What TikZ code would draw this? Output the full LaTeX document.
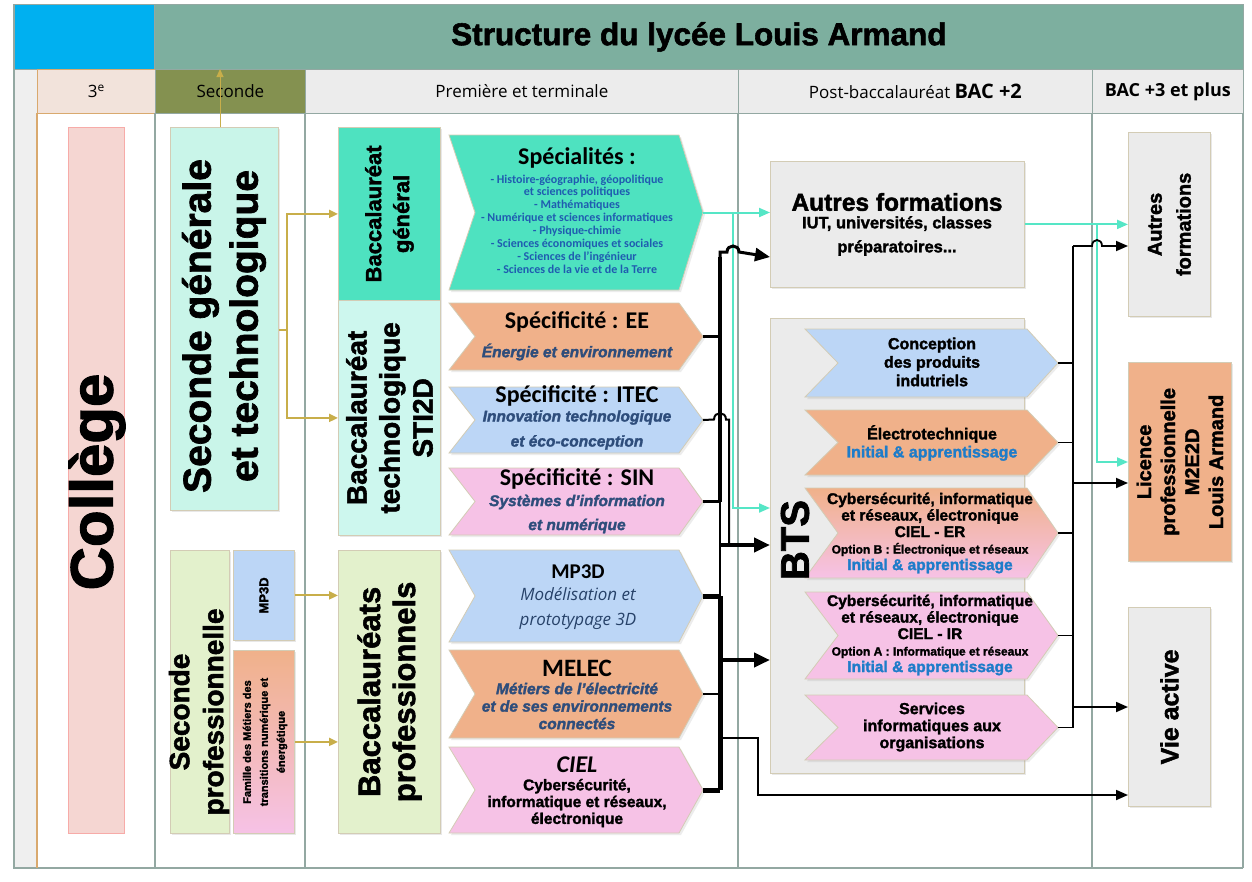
\documentclass[tikz,border=0pt]{standalone}
\usepackage{fontspec}
\setmainfont{Carlito}
\newfontfamily\heavyfont{Liberation Sans}[BoldFeatures={FakeBold=1.8},BoldItalicFeatures={FakeBold=1.8}]
\newfontfamily\segfont{Open Sans}
\usetikzlibrary{arrows.meta,shadows}

\definecolor{titleblue}{HTML}{00B0F0}
\definecolor{titlegreen}{HTML}{7DAF9F}
\definecolor{peach}{HTML}{F2E3DB}
\definecolor{peachedge}{HTML}{D9A96E}
\definecolor{olive}{HTML}{849150}
\definecolor{headgrey}{HTML}{ECECEC}
\definecolor{gridline}{HTML}{93A8A2}
\definecolor{stripgrey}{HTML}{EFEFEF}
\definecolor{collegepink}{HTML}{F5D6D2}
\definecolor{mint}{HTML}{C9F5E9}
\definecolor{turq}{HTML}{4EE2C0}
\definecolor{paleturq}{HTML}{CDF7EE}
\definecolor{palegreen}{HTML}{E3F1CC}
\definecolor{skyblue}{HTML}{BCD6F6}
\definecolor{salmon}{HTML}{F0B18A}
\definecolor{rosepink}{HTML}{F6C2E6}
\definecolor{boxgrey}{HTML}{EBEBEB}
\definecolor{boxedge}{HTML}{D3CCB5}
\definecolor{gold}{HTML}{C8AE4A}
\definecolor{listblue}{HTML}{1F5CB0}
\definecolor{slateblue}{HTML}{2E4D7B}
\definecolor{initblue}{HTML}{1E7CC9}
\definecolor{aqua}{HTML}{55E6C6}

\newcommand\fs[2]{\fontsize{#1}{#2}\selectfont}
% chevron: name, left x, tip x, top y, bottom y, fill, depth
\newcommand\chevron[7]{%
  \path[chevedge,#6] (#2,#4) -- ({#3-#7},#4) -- (#3,{(#4+#5)/2}) -- ({#3-#7},#5)
    -- (#2,#5) -- ({#2+#7+2},{(#4+#5)/2}) -- cycle;
  \coordinate (#1-tip) at (#3,{(#4+#5)/2});
  \coordinate (#1) at ({(#2+#3)/2},{(#4+#5)/2});
}

\begin{document}
\begin{tikzpicture}[x=1pt,y=-1pt,
  cell/.style={anchor=north west,inner sep=0pt,line width=0.8pt},
  boxed/.style={cell,draw=boxedge,drop shadow={shadow xshift=2pt,shadow yshift=-2pt,opacity=0.18}},
  headcell/.style={cell,draw=gridline,font=\segfont\fs{17}{19}},
  vtext/.style={rotate=90,align=center,inner sep=0pt},
  ctext/.style={align=center,inner sep=0pt},
  chevedge/.style={draw=boxedge,line width=0.8pt,drop shadow={shadow xshift=2pt,shadow yshift=-2pt,opacity=0.15}},
  goldline/.style={draw=gold,line width=2pt},
  goldarrow/.style={goldline,-{Triangle[length=9pt,width=8pt]}},
  tealline/.style={draw=aqua,line width=2pt},
  tealarrow/.style={tealline,-{Triangle[length=11pt,width=9pt]}},
  thinarrow/.style={line width=1.8pt,-{Triangle[length=12pt,width=10pt]}},
  fatarrow/.style={line width=4pt,-{Triangle[length=16pt,width=14pt]}},
]
\useasboundingbox (0,0) rectangle (1252,881);
\fill[white] (0,0) rectangle (1252,881);

% frame and columns
\fill[stripgrey] (14,69) rectangle (37,868);
\node[cell,draw=gridline,fill=titleblue,minimum width=140,minimum height=65] (logo) at (14,4) {};
\node[cell,draw=gridline,fill=titlegreen,minimum width=1089,minimum height=65,
  font=\heavyfont\bfseries\fs{31.5}{36}] (title) at (154,4) {Structure du lycée Louis Armand};
\node[headcell,draw=peachedge,fill=peach,minimum width=118,minimum height=44] (h3e) at (37,69) {3\textsuperscript{e}};
\node[headcell,fill=olive,minimum width=150,minimum height=44] (hsec) at (155,69) {Seconde};
\node[headcell,fill=headgrey,minimum width=433,minimum height=44] (hpt) at (305,69) {Première et terminale};
\node[headcell,fill=headgrey,minimum width=354,minimum height=44] (hpb) at (738,69)
  {Post-baccalauréat {\bfseries\fs{20}{22}BAC +2}};
\node[headcell,fill=headgrey,minimum width=151,minimum height=44,font=\segfont\bfseries\fs{18}{20}] (hb3) at (1092,69) {BAC +3 et plus};
\draw[gridline,line width=1.5pt] (14,4) -- (14,868) -- (1243,868);
\draw[peachedge,line width=1.2pt] (37,113) -- (37,868);
\foreach \cx in {155,305,738,1092,1243}
  \draw[gridline,line width=1.5pt] (\cx,113) -- (\cx,868);

% college and seconde
\node[cell,draw=collegepink!80!red,fill=collegepink,minimum width=56,minimum height=706] (college) at (68,127) {};
\node[vtext,font=\heavyfont\bfseries\fs{60}{64}] (college-t) at (97,482) {Collège};
\node[boxed,fill=mint,minimum width=108,minimum height=383] (sgt) at (170,127) {};
\node[vtext,font=\heavyfont\bfseries\fs{39}{47}] (sgt-t) at (224,326) {Seconde générale\\et technologique};
\node[boxed,fill=palegreen,minimum width=59,minimum height=283] (spro) at (170,550) {};
\node[vtext,font=\heavyfont\bfseries\fs{28}{34}] (spro-t) at (199,712) {Seconde\\professionnelle};
\node[boxed,fill=skyblue,minimum width=61,minimum height=90] (mpbox) at (233,550) {};
\node[vtext,font=\heavyfont\bfseries\fs{13}{15}] (mpbox-t) at (mpbox) {MP3D};
\node[boxed,top color=salmon,bottom color=rosepink,minimum width=61,minimum height=183] (famille) at (233,650) {};
\node[vtext,font=\heavyfont\bfseries\fs{11}{17}] (famille-t) at (265,742)
  {Famille des Métiers des\\transitions numérique et\\énergétique};

% baccalaureats
\node[boxed,fill=turq,minimum width=102,minimum height=173] (bgen) at (338,127) {};
\node[vtext,font=\heavyfont\bfseries\fs{22}{28}] (bgen-t) at (bgen) {Baccalauréat\\général};
\node[boxed,fill=paleturq,minimum width=102,minimum height=235] (bsti) at (338,300) {};
\node[vtext,font=\heavyfont\bfseries\fs{28}{33}] (bsti-t) at (bsti) {Baccalauréat\\technologique\\STI2D};
\node[boxed,fill=palegreen,minimum width=102,minimum height=283] (bpro) at (338,550) {};
\node[vtext,font=\heavyfont\bfseries\fs{31}{35}] (bpro-t) at (bpro) {Baccalauréats\\professionnels};

% chevrons premiere et terminale
\chevron{spe}{449}{703}{135}{290}{fill=turq}{24}
\chevron{ee}{449}{703}{303}{370}{fill=salmon}{24}
\chevron{itec}{449}{703}{387}{453}{fill=skyblue}{24}
\chevron{sin}{449}{703}{468}{535}{fill=rosepink}{24}
\chevron{mp}{449}{703}{550}{642}{fill=skyblue}{24}
\chevron{melec}{449}{703}{650}{738}{fill=salmon}{24}
\chevron{ciel}{449}{703}{747}{833}{fill=rosepink}{24}

\node[ctext,font=\bfseries\fs{24}{26}] (spe-h) at (577,158) {Spécialités :};
\node[ctext,text=listblue,font=\bfseries\fs{12}{12.9}] (spe-l) at (577,224)
  {- Histoire-géographie, géopolitique\\et sciences politiques\\- Mathématiques\\
   - Numérique et sciences informatiques\\- Physique-chimie\\
   - Sciences économiques et sociales\\- Sciences de l’ingénieur\\
   - Sciences de la vie et de la Terre};
\node[ctext,font=\bfseries\fs{24}{26}] (ee-h) at (577,322) {Spécificité : EE};
\node[ctext,text=slateblue,font=\heavyfont\bfseries\itshape\fs{15.5}{18}] (ee-s) at (577,352) {Énergie et environnement};
\node[ctext,font=\bfseries\fs{24}{26}] (itec-h) at (577,396) {Spécificité : ITEC};
\node[ctext,text=slateblue,font=\heavyfont\bfseries\itshape\fs{15.5}{25}] (itec-s) at (577,430)
  {Innovation technologique\\et éco-conception};
\node[ctext,font=\bfseries\fs{24}{26}] (sin-h) at (577,479) {Spécificité : SIN};
\node[ctext,text=slateblue,font=\heavyfont\bfseries\itshape\fs{15.5}{24}] (sin-s) at (577,514)
  {Systèmes d’information\\et numérique};
\node[ctext,font=\bfseries\fs{21}{24}] (mp-h) at (578,572) {MP3D};
\node[ctext,text=slateblue!85!black,font=\segfont\itshape\fs{17}{25}] (mp-s) at (578,609)
  {Modélisation et\\prototypage 3D};
\node[ctext,font=\bfseries\fs{25}{27}] (melec-h) at (577,668) {MELEC};
\node[ctext,text=slateblue,font=\heavyfont\bfseries\itshape\fs{15.5}{17.5}] (melec-s) at (577,706)
  {Métiers de l’électricité\\et de ses environnements\\connectés};
\node[ctext,font=\bfseries\itshape\fs{24}{26}] (ciel-h) at (577,765) {CIEL};
\node[ctext,font=\heavyfont\bfseries\fs{15.5}{16.8}] (ciel-s) at (577,803)
  {Cybersécurité,\\informatique et réseaux,\\électronique};

% post-bac
\node[boxed,fill=boxgrey,minimum width=254,minimum height=126] (autres) at (770,161) {};
\node[ctext,font=\heavyfont\bfseries\fs{24.5}{26}] (autres-h) at (897,202) {Autres formations};
\node[ctext,font=\heavyfont\bfseries\fs{16.5}{24}] (autres-s) at (897,236)
  {IUT, universités, classes\\préparatoires...};
\node[boxed,fill=boxgrey,minimum width=254,minimum height=455] (bts) at (770,318) {};
\chevron{conc}{805}{1058}{329}{397}{fill=skyblue}{31}
\chevron{elec}{805}{1058}{410}{475}{fill=salmon}{31}
\chevron{cer}{805}{1058}{488}{578}{top color=salmon,bottom color=rosepink}{31}
\chevron{cir}{805}{1058}{592}{679}{fill=rosepink}{31}
\chevron{serv}{805}{1058}{695}{760}{fill=rosepink}{31}
\node[vtext,font=\heavyfont\bfseries\fs{40}{44}] (bts-t) at (795,540) {BTS};
\node[ctext,font=\heavyfont\bfseries\fs{16}{18.5}] (conc-t) at (932,362) {Conception\\des produits\\indutriels};
\node[ctext,font=\heavyfont\bfseries\fs{16}{18}] (elec-t) at (932,443)
  {Électrotechnique\\\textcolor{initblue}{Initial \& apprentissage}};
\node[ctext,font=\heavyfont\bfseries\fs{15.5}{16.5}] (cer-t) at (930,533)
  {Cybersécurité, informatique\\et réseaux, électronique\\CIEL - ER\\
   {\fs{12}{15}Option B : Électronique et réseaux}\\\textcolor{initblue}{Initial \& apprentissage}};
\node[ctext,font=\heavyfont\bfseries\fs{15.5}{16.5}] (cir-t) at (930,635)
  {Cybersécurité, informatique\\et réseaux, électronique\\CIEL - IR\\
   {\fs{12}{15}Option A : Informatique et réseaux}\\\textcolor{initblue}{Initial \& apprentissage}};
\node[ctext,font=\heavyfont\bfseries\fs{16}{17}] (serv-t) at (932,727)
  {Services\\informatiques aux\\organisations};

% bac +3
\node[boxed,fill=boxgrey,minimum width=82,minimum height=184] (autres2) at (1128,132) {};
\node[vtext,font=\heavyfont\bfseries\fs{20}{29}] (autres2-t) at (autres2) {Autres\\formations};
\node[boxed,fill=salmon,minimum width=103,minimum height=199] (licence) at (1128,362) {};
\node[vtext,font=\heavyfont\bfseries\fs{20}{24}] (licence-t) at (licence)
  {Licence\\professionnelle\\M2E2D\\Louis Armand};
\node[boxed,fill=boxgrey,minimum width=82,minimum height=199] (vie) at (1128,607) {};
\node[vtext,font=\heavyfont\bfseries\fs{25}{28}] (vie-t) at (vie) {Vie active};

% gold links
\coordinate (gfork) at (287,330);
\draw[goldline] (sgt.east |- gfork) -- (gfork);
\draw[goldarrow] (gfork) |- (bgen.west);
\draw[goldarrow] (gfork) |- (bsti.west);
\draw[goldarrow] (mpbox.east) -- (mpbox.east -| bpro.west);
\draw[goldarrow] (famille.east) -- (famille.east -| bpro.west);
\draw[gold,line width=1pt,-{Triangle[length=8pt,width=7pt]}] (sgt.north -| 220,0) -- (hsec.north -| 220,0);

% teal links
\coordinate (tsplit) at (733,508);
\coordinate (tlic) at (1097,462);
\draw[tealarrow] (spe-tip) -- (spe-tip -| autres.west);
\draw[tealarrow] (spe-tip -| tsplit) -- (tsplit) -- (tsplit -| bts.west);
\draw[tealarrow] (autres.east) -- (autres.east -| autres2.west);
\draw[tealarrow] (autres.east -| tlic) -- (tlic) -- (tlic -| licence.west);

% STI2D bus
\coordinate (bustop) at (720,257);
\coordinate (busmid) at (720,545);
\coordinate (probus) at (720,660);
\draw[line width=4pt] (bustop) -- (sin-tip -| bustop);
\draw[line width=2pt] (sin-tip -| bustop) -- (mp-tip -| bustop);
\draw[line width=3pt,-{Triangle[length=15pt,width=13pt]}] (720,259) -- (720,252) -- (727,252)
  .. controls (727,244) and (739,244) .. (739,252) -- (bustop -| autres.west);
\draw[line width=2.5pt] (ee-tip) -- (ee-tip -| bustop);
\draw[line width=2.5pt] (sin-tip) -- (sin-tip -| bustop);
\draw[line width=2pt] (itec-tip) -- (714,419.5) .. controls (714,411) and (726,411) .. (726,419.5)
  -- (729,419.5) -- (729,545);
\draw[fatarrow] (busmid) -- (busmid -| bts.west);

% professional bus
\draw[line width=5pt] (mp-tip -| probus) -- (ciel-tip -| probus);
\draw[line width=5pt] (mp-tip) -- (mp-tip -| probus);
\draw[line width=2.5pt] (melec-tip) -- (melec-tip -| probus);
\draw[line width=5pt] (ciel-tip) -- (ciel-tip -| probus);
\draw[fatarrow] (probus) -- (probus -| bts.west);
\coordinate (vieturn) at (758,738);
\coordinate (vieline) at (758,795);
\draw[thinarrow] (vieturn -| probus) -- (vieturn) -- (vieline) -- (vieline -| vie.west);

% BTS outputs
\coordinate (outtop) at (1073,246);
\coordinate (outlic) at (1073,483);
\coordinate (outvie) at (1073,707);
\draw[line width=1.6pt] (outtop) -- (serv-tip -| outtop);
\foreach \c in {conc,elec,cer,cir,serv}
  \draw[line width=1.4pt] (\c-tip) -- (\c-tip -| outtop);
\draw[thinarrow] (outtop) -- (1092,246) .. controls (1092,238) and (1102,238) .. (1102,246)
  -- (outtop -| autres2.west);
\draw[thinarrow] (outlic) -- (outlic -| licence.west);
\draw[thinarrow] (outvie) -- (outvie -| vie.west);
\end{tikzpicture}
\end{document}
